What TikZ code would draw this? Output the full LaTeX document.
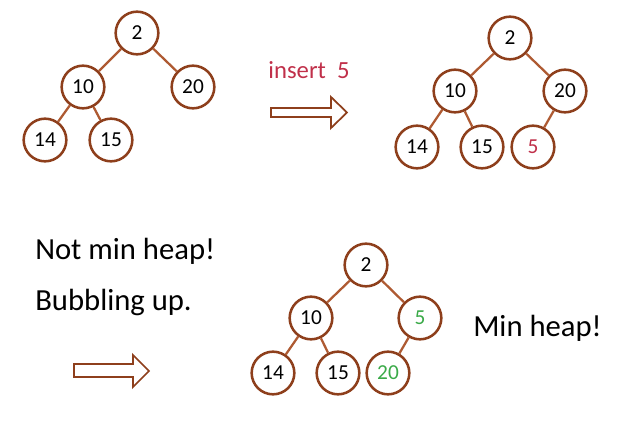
\documentclass[tikz,border=0pt]{standalone}
\usepackage{fontspec}
\setmainfont{Carlito}
\definecolor{nodebrown}{HTML}{8E3F1C}
\definecolor{edgebrown}{HTML}{AE5A32}
\definecolor{insred}{HTML}{C0304A}
\definecolor{okgreen}{HTML}{3AAA48}
\tikzset{
  hnode/.style={circle, draw=nodebrown, line width=1.9pt, fill=white, minimum size=32pt, inner sep=0pt, font=\fontsize{16}{16}\selectfont},
  hedge/.style={draw=edgebrown, line width=1.7pt},
  bigtext/.style={font=\fontsize{23}{26}\selectfont, anchor=west, inner sep=0pt},
  fatarrow/.style={draw=nodebrown, line width=1.3pt, fill=white, line join=miter}
}
\begin{document}
\begin{tikzpicture}[x=0.75pt, y=-0.75pt]
\useasboundingbox (0,0) rectangle (643,435);
% tree 1
\node[hnode] (a1) at (137,33) {2};
\node[hnode] (a2) at (83,87) {10};
\node[hnode] (a3) at (193,87) {20};
\node[hnode] (a4) at (45,140) {14};
\node[hnode] (a5) at (111,140) {15};
\draw[hedge] (a1) -- (a2);
\draw[hedge] (a1) -- (a3);
\draw[hedge] (a2) -- (a4);
\draw[hedge] (a2) -- (a5);
% insert label and arrow
\node[font=\fontsize{18.5}{20}\selectfont, text=insred, inner sep=0pt] (ins) at (309,70) {insert\ \ 5};
\draw[fatarrow] (271,108) -- (331,108) -- (331,97) -- (347,112.5) -- (331,128) -- (331,117) -- (271,117) -- cycle;
% tree 2
\node[hnode] (b1) at (510,38) {2};
\node[hnode] (b2) at (455,91) {10};
\node[hnode] (b3) at (565,91) {20};
\node[hnode] (b4) at (417,147) {14};
\node[hnode] (b5) at (482,147) {15};
\node[hnode, text=insred] (b6) at (533,147) {5};
\draw[hedge] (b1) -- (b2);
\draw[hedge] (b1) -- (b3);
\draw[hedge] (b2) -- (b4);
\draw[hedge] (b2) -- (b5);
\draw[hedge] (b3) -- (b6);
% texts
\node[bigtext] (t1) at (35,251) {Not min heap!};
\node[bigtext] (t2) at (35,302) {Bubbling up.};
\draw[fatarrow] (74,364) -- (133,364) -- (133,355) -- (149,371) -- (133,387) -- (133,377) -- (74,377) -- cycle;
% tree 3
\node[hnode] (c1) at (366,265) {2};
\node[hnode] (c2) at (311,318) {10};
\node[hnode, text=okgreen] (c3) at (420,318) {5};
\node[hnode] (c4) at (273,373) {14};
\node[hnode] (c5) at (338,373) {15};
\node[hnode, text=okgreen] (c6) at (388,373) {20};
\draw[hedge] (c1) -- (c2);
\draw[hedge] (c1) -- (c3);
\draw[hedge] (c2) -- (c4);
\draw[hedge] (c2) -- (c5);
\draw[hedge] (c3) -- (c6);
\node[bigtext] (t3) at (473,328) {Min heap!};
\end{tikzpicture}
\end{document}
